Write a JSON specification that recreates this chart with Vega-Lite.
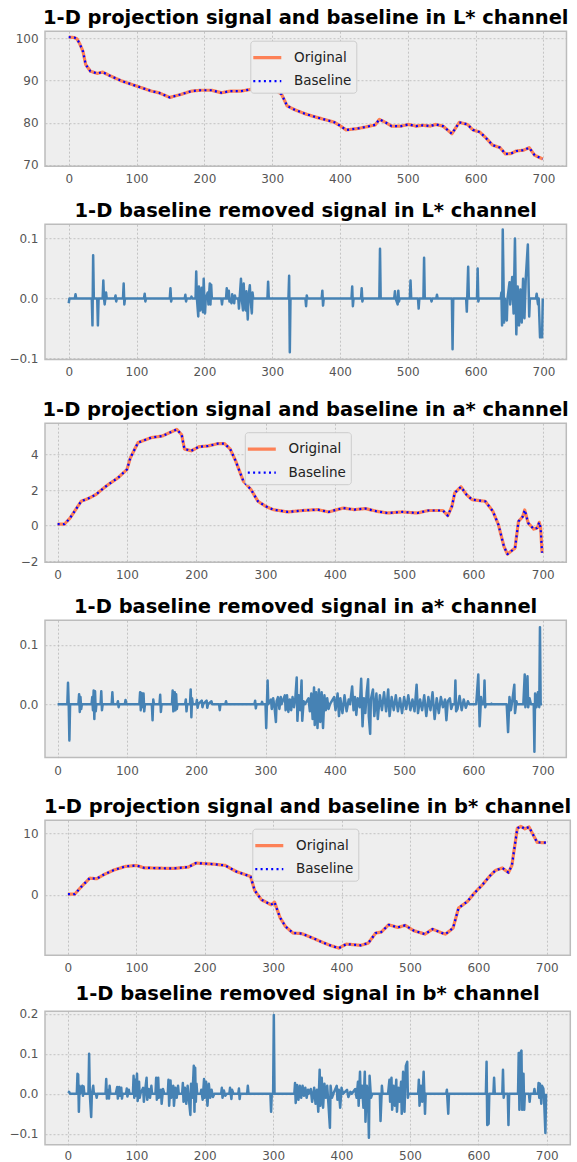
{
"$schema":"https://vega.github.io/schema/vega-lite/v6.json",
"padding":{"left":0,"top":6.2,"right":0,"bottom":0},
"background":"#ffffff",
"datasets":{
"L":[{"x":0,"v":100.3},{"x":8,"v":100.2},{"x":12,"v":99.9},{"x":16,"v":98.8},{"x":21,"v":96.9},{"x":25,"v":93.8},{"x":32,"v":92.2},{"x":42,"v":91.7},{"x":50,"v":92.0},{"x":60,"v":91.2},{"x":78,"v":89.9},{"x":100,"v":88.7},{"x":122,"v":87.5},{"x":133,"v":87.1},{"x":149,"v":86.0},{"x":165,"v":86.7},{"x":181,"v":87.5},{"x":195,"v":87.7},{"x":211,"v":87.7},{"x":225,"v":87.1},{"x":238,"v":87.5},{"x":254,"v":87.5},{"x":268,"v":87.9},{"x":281,"v":88.0},{"x":295,"v":88.8},{"x":303,"v":88.0},{"x":314,"v":86.7},{"x":322,"v":84.0},{"x":333,"v":83.1},{"x":349,"v":82.1},{"x":365,"v":81.3},{"x":379,"v":80.7},{"x":392,"v":80.1},{"x":400,"v":79.3},{"x":409,"v":78.3},{"x":425,"v":78.6},{"x":438,"v":79.0},{"x":452,"v":79.5},{"x":458,"v":80.8},{"x":468,"v":80.0},{"x":476,"v":79.2},{"x":490,"v":79.2},{"x":501,"v":79.6},{"x":512,"v":79.2},{"x":522,"v":79.4},{"x":533,"v":79.2},{"x":541,"v":79.6},{"x":552,"v":79.2},{"x":565,"v":77.4},{"x":576,"v":80.1},{"x":588,"v":79.6},{"x":596,"v":78.3},{"x":606,"v":77.8},{"x":614,"v":76.6},{"x":625,"v":74.7},{"x":636,"v":74.1},{"x":644,"v":72.6},{"x":652,"v":72.7},{"x":660,"v":73.3},{"x":671,"v":73.5},{"x":679,"v":74.1},{"x":687,"v":72.3},{"x":699,"v":71.4}],
"A":[{"x":0,"v":0.09},{"x":10,"v":0.09},{"x":18,"v":0.43},{"x":26,"v":0.9},{"x":34,"v":1.37},{"x":44,"v":1.52},{"x":55,"v":1.74},{"x":71,"v":2.25},{"x":87,"v":2.68},{"x":100,"v":3.15},{"x":105,"v":3.81},{"x":116,"v":4.66},{"x":135,"v":4.94},{"x":151,"v":5.03},{"x":172,"v":5.4},{"x":179,"v":5.1},{"x":183,"v":4.3},{"x":193,"v":4.2},{"x":204,"v":4.43},{"x":217,"v":4.47},{"x":231,"v":4.6},{"x":241,"v":4.6},{"x":249,"v":4.3},{"x":257,"v":3.62},{"x":268,"v":2.5},{"x":279,"v":2.03},{"x":289,"v":1.37},{"x":300,"v":1.09},{"x":311,"v":0.9},{"x":332,"v":0.77},{"x":353,"v":0.85},{"x":375,"v":0.9},{"x":391,"v":0.77},{"x":412,"v":0.99},{"x":428,"v":0.9},{"x":444,"v":0.96},{"x":460,"v":0.81},{"x":476,"v":0.71},{"x":497,"v":0.77},{"x":519,"v":0.71},{"x":535,"v":0.85},{"x":556,"v":0.85},{"x":563,"v":0.56},{"x":569,"v":1.09},{"x":573,"v":1.84},{"x":582,"v":2.18},{"x":590,"v":1.74},{"x":598,"v":1.46},{"x":610,"v":1.4},{"x":617,"v":1.37},{"x":628,"v":0.81},{"x":636,"v":0.06},{"x":644,"v":-1.16},{"x":649,"v":-1.6},{"x":660,"v":-1.26},{"x":665,"v":0.24},{"x":671,"v":0.5},{"x":674,"v":0.88},{"x":679,"v":0.15},{"x":687,"v":-0.19},{"x":692,"v":-0.13},{"x":695,"v":0.19},{"x":697,"v":-0.13},{"x":699,"v":-1.52}],
"B":[{"x":0,"v":0.1},{"x":10,"v":0.1},{"x":20,"v":1.35},{"x":32,"v":2.7},{"x":42,"v":2.6},{"x":52,"v":3.24},{"x":68,"v":4.05},{"x":84,"v":4.6},{"x":100,"v":4.76},{"x":111,"v":4.38},{"x":133,"v":4.32},{"x":154,"v":4.27},{"x":176,"v":4.49},{"x":187,"v":5.14},{"x":213,"v":4.97},{"x":230,"v":4.76},{"x":246,"v":3.78},{"x":267,"v":2.97},{"x":273,"v":0.7},{"x":283,"v":-0.81},{"x":297,"v":-1.62},{"x":302,"v":-1.19},{"x":310,"v":-3.68},{"x":318,"v":-5.14},{"x":329,"v":-6.2},{"x":342,"v":-6.3},{"x":358,"v":-7.03},{"x":375,"v":-7.84},{"x":385,"v":-8.27},{"x":396,"v":-8.65},{"x":407,"v":-8.0},{"x":418,"v":-8.1},{"x":428,"v":-8.2},{"x":439,"v":-7.84},{"x":450,"v":-6.2},{"x":458,"v":-6.05},{"x":469,"v":-4.86},{"x":482,"v":-5.3},{"x":493,"v":-4.97},{"x":506,"v":-5.84},{"x":522,"v":-6.38},{"x":533,"v":-5.57},{"x":547,"v":-6.2},{"x":552,"v":-6.38},{"x":563,"v":-5.4},{"x":571,"v":-2.16},{"x":584,"v":-1.08},{"x":595,"v":0.38},{"x":606,"v":1.62},{"x":617,"v":3.08},{"x":625,"v":3.95},{"x":635,"v":4.35},{"x":644,"v":3.6},{"x":649,"v":4.76},{"x":657,"v":10.8},{"x":662,"v":11.1},{"x":668,"v":10.7},{"x":674,"v":11.0},{"x":686,"v":8.5},{"x":699,"v":8.45}],
"Lr":[{"x":0,"v":-0.008},{"x":1,"v":0},{"x":9,"v":0},{"x":10,"v":0.007},{"x":11,"v":0},{"x":34,"v":0},{"x":35,"v":-0.045},{"x":36,"v":0.072},{"x":37,"v":0},{"x":42,"v":0},{"x":43,"v":-0.045},{"x":44,"v":0},{"x":50,"v":0},{"x":51,"v":0.03},{"x":52,"v":0},{"x":53,"v":-0.01},{"x":55,"v":0.01},{"x":56,"v":0},{"x":68,"v":0},{"x":69,"v":0.005},{"x":70,"v":-0.005},{"x":71,"v":0},{"x":80,"v":0},{"x":81,"v":0.025},{"x":82,"v":-0.01},{"x":83,"v":0},{"x":111,"v":0},{"x":112,"v":0.008},{"x":113,"v":-0.005},{"x":114,"v":0},{"x":149,"v":0},{"x":150,"v":0.017},{"x":151,"v":-0.005},{"x":152,"v":0},{"x":171,"v":0},{"x":172,"v":0.006},{"x":173,"v":-0.005},{"x":174,"v":0},{"x":180,"v":0},{"x":181,"v":0.003},{"x":182,"v":0},{"x":187,"v":0},{"x":188,"v":0.045},{"x":189,"v":0},{"x":191,"v":-0.03},{"x":192,"v":0.02},{"x":194,"v":-0.02},{"x":196,"v":0.018},{"x":198,"v":-0.023},{"x":199,"v":0.033},{"x":200,"v":0},{"x":201,"v":-0.025},{"x":202,"v":0},{"x":205,"v":0.01},{"x":206,"v":-0.01},{"x":208,"v":0.025},{"x":209,"v":-0.01},{"x":210,"v":0.023},{"x":211,"v":0},{"x":225,"v":0},{"x":226,"v":-0.01},{"x":227,"v":0},{"x":232,"v":0},{"x":233,"v":0.017},{"x":234,"v":0},{"x":236,"v":0.013},{"x":237,"v":-0.005},{"x":238,"v":0},{"x":240,"v":-0.008},{"x":241,"v":0.007},{"x":242,"v":0},{"x":244,"v":-0.008},{"x":245,"v":0.005},{"x":246,"v":0},{"x":250,"v":0},{"x":251,"v":-0.017},{"x":252,"v":0},{"x":254,"v":0.033},{"x":255,"v":0},{"x":257,"v":-0.02},{"x":258,"v":0.025},{"x":259,"v":0},{"x":261,"v":-0.02},{"x":262,"v":0.012},{"x":264,"v":-0.035},{"x":265,"v":0},{"x":267,"v":0.022},{"x":268,"v":0},{"x":270,"v":-0.025},{"x":271,"v":0.01},{"x":272,"v":0},{"x":293,"v":0},{"x":294,"v":0.028},{"x":295,"v":0},{"x":324,"v":0},{"x":325,"v":0.038},{"x":326,"v":-0.09},{"x":327,"v":0},{"x":349,"v":0},{"x":350,"v":-0.013},{"x":351,"v":0.005},{"x":352,"v":0},{"x":373,"v":0},{"x":374,"v":0.013},{"x":375,"v":-0.012},{"x":376,"v":0},{"x":417,"v":0},{"x":418,"v":0.02},{"x":419,"v":-0.013},{"x":420,"v":0},{"x":431,"v":0},{"x":432,"v":0.017},{"x":433,"v":-0.005},{"x":434,"v":0},{"x":458,"v":0},{"x":459,"v":0.083},{"x":460,"v":0},{"x":480,"v":0},{"x":481,"v":0.012},{"x":482,"v":0},{"x":485,"v":-0.01},{"x":486,"v":0.013},{"x":487,"v":-0.005},{"x":488,"v":0},{"x":503,"v":0},{"x":504,"v":0.03},{"x":505,"v":0},{"x":515,"v":0},{"x":516,"v":-0.017},{"x":517,"v":0},{"x":523,"v":0},{"x":524,"v":0.068},{"x":525,"v":0},{"x":534,"v":0},{"x":535,"v":-0.005},{"x":536,"v":0},{"x":542,"v":0},{"x":543,"v":0.006},{"x":544,"v":0},{"x":565,"v":0},{"x":566,"v":-0.085},{"x":567,"v":0},{"x":586,"v":0},{"x":587,"v":-0.022},{"x":589,"v":0.053},{"x":590,"v":0},{"x":602,"v":0},{"x":603,"v":0.05},{"x":604,"v":-0.005},{"x":605,"v":0},{"x":637,"v":0},{"x":638,"v":0.01},{"x":639,"v":-0.045},{"x":640,"v":0.115},{"x":642,"v":-0.04},{"x":643,"v":0},{"x":646,"v":-0.037},{"x":647,"v":0},{"x":650,"v":0.027},{"x":651,"v":-0.01},{"x":654,"v":0.036},{"x":656,"v":-0.025},{"x":658,"v":0.1},{"x":660,"v":-0.06},{"x":662,"v":0.02},{"x":664,"v":-0.045},{"x":666,"v":0.015},{"x":668,"v":-0.04},{"x":670,"v":0.033},{"x":672,"v":-0.033},{"x":674,"v":0.035},{"x":677,"v":0.09},{"x":679,"v":-0.03},{"x":680,"v":0},{"x":689,"v":0},{"x":690,"v":0.008},{"x":692,"v":-0.01},{"x":693,"v":0},{"x":695,"v":-0.065},{"x":698,"v":-0.065},{"x":699,"v":0}],
"Ar":[{"x":0,"v":0},{"x":14,"v":0},{"x":15,"v":0.036},{"x":16,"v":0},{"x":17,"v":-0.061},{"x":18,"v":0},{"x":30,"v":0},{"x":31,"v":0.017},{"x":32,"v":-0.013},{"x":33,"v":0.012},{"x":34,"v":-0.008},{"x":35,"v":0},{"x":49,"v":0},{"x":50,"v":0.012},{"x":51,"v":-0.01},{"x":52,"v":0.023},{"x":53,"v":-0.025},{"x":54,"v":0.022},{"x":55,"v":-0.012},{"x":56,"v":0},{"x":62,"v":0},{"x":63,"v":0.022},{"x":64,"v":-0.01},{"x":65,"v":0},{"x":78,"v":0},{"x":79,"v":0.02},{"x":80,"v":0},{"x":86,"v":0},{"x":87,"v":0.005},{"x":88,"v":-0.005},{"x":89,"v":0},{"x":97,"v":0},{"x":98,"v":0.007},{"x":99,"v":0},{"x":118,"v":0},{"x":119,"v":0.02},{"x":120,"v":-0.01},{"x":121,"v":0.019},{"x":122,"v":-0.005},{"x":124,"v":0.018},{"x":125,"v":-0.012},{"x":126,"v":0},{"x":136,"v":0},{"x":137,"v":-0.027},{"x":138,"v":0.008},{"x":139,"v":0},{"x":147,"v":0},{"x":148,"v":0.016},{"x":149,"v":-0.013},{"x":150,"v":0},{"x":165,"v":0},{"x":166,"v":0.023},{"x":167,"v":-0.012},{"x":169,"v":0.02},{"x":170,"v":-0.01},{"x":171,"v":0.017},{"x":172,"v":-0.008},{"x":173,"v":0},{"x":184,"v":0},{"x":185,"v":0.008},{"x":186,"v":-0.012},{"x":187,"v":0},{"x":191,"v":0},{"x":192,"v":0.025},{"x":193,"v":-0.022},{"x":194,"v":0.01},{"x":195,"v":0},{"x":200,"v":0},{"x":201,"v":0.007},{"x":202,"v":-0.006},{"x":203,"v":0},{"x":208,"v":0.006},{"x":209,"v":-0.005},{"x":210,"v":0},{"x":215,"v":0.006},{"x":216,"v":-0.006},{"x":217,"v":0},{"x":222,"v":0.005},{"x":223,"v":0},{"x":233,"v":0},{"x":234,"v":-0.01},{"x":235,"v":0},{"x":242,"v":0},{"x":243,"v":0.005},{"x":244,"v":0},{"x":284,"v":0},{"x":285,"v":0.006},{"x":286,"v":-0.007},{"x":287,"v":0},{"x":294,"v":0},{"x":295,"v":0.004},{"x":296,"v":0},{"x":300,"v":0},{"x":301,"v":-0.04},{"x":303,"v":0.04},{"x":304,"v":0},{"x":308,"v":0.008},{"x":309,"v":-0.008},{"x":311,"v":0.01},{"x":313,"v":-0.005},{"x":315,"v":-0.03},{"x":316,"v":0.005},{"x":318,"v":0.012},{"x":320,"v":-0.008},{"x":322,"v":0.012},{"x":323,"v":0},{"x":328,"v":0.015},{"x":329,"v":-0.01},{"x":331,"v":0.015},{"x":333,"v":-0.013},{"x":335,"v":0.008},{"x":337,"v":-0.01},{"x":339,"v":0.012},{"x":341,"v":-0.005},{"x":343,"v":0.01},{"x":345,"v":0.045},{"x":346,"v":-0.028},{"x":348,"v":0.015},{"x":350,"v":-0.01},{"x":352,"v":0.04},{"x":353,"v":-0.028},{"x":355,"v":0.005},{"x":357,"v":0},{"x":362,"v":0.01},{"x":364,"v":-0.012},{"x":366,"v":0.018},{"x":368,"v":-0.025},{"x":370,"v":0.028},{"x":371,"v":-0.035},{"x":373,"v":0.02},{"x":375,"v":-0.04},{"x":377,"v":0.025},{"x":379,"v":-0.03},{"x":381,"v":0.02},{"x":383,"v":-0.04},{"x":385,"v":0.015},{"x":387,"v":-0.01},{"x":389,"v":0.01},{"x":391,"v":-0.008},{"x":393,"v":0},{"x":399,"v":0.012},{"x":401,"v":-0.01},{"x":404,"v":0.018},{"x":406,"v":-0.02},{"x":408,"v":0.01},{"x":411,"v":-0.015},{"x":414,"v":0.015},{"x":417,"v":-0.012},{"x":420,"v":0.008},{"x":422,"v":0},{"x":425,"v":0.03},{"x":427,"v":-0.01},{"x":429,"v":0.012},{"x":431,"v":-0.018},{"x":433,"v":0.01},{"x":436,"v":-0.005},{"x":438,"v":0.043},{"x":440,"v":-0.037},{"x":442,"v":0.01},{"x":444,"v":-0.015},{"x":446,"v":0.02},{"x":448,"v":0.042},{"x":449,"v":-0.02},{"x":451,"v":-0.05},{"x":452,"v":0.008},{"x":455,"v":0.025},{"x":457,"v":-0.02},{"x":460,"v":0.018},{"x":462,"v":-0.025},{"x":465,"v":0.015},{"x":468,"v":-0.01},{"x":471,"v":0.02},{"x":474,"v":-0.012},{"x":477,"v":0.025},{"x":479,"v":-0.02},{"x":482,"v":0.012},{"x":485,"v":-0.01},{"x":488,"v":0.015},{"x":491,"v":-0.012},{"x":494,"v":0.01},{"x":497,"v":-0.015},{"x":500,"v":0.012},{"x":503,"v":-0.008},{"x":506,"v":0.015},{"x":509,"v":-0.01},{"x":512,"v":0.008},{"x":515,"v":-0.012},{"x":518,"v":0.033},{"x":520,"v":-0.015},{"x":523,"v":0.008},{"x":526,"v":-0.01},{"x":529,"v":0.015},{"x":532,"v":-0.02},{"x":535,"v":0.012},{"x":538,"v":-0.01},{"x":541,"v":0.02},{"x":544,"v":-0.025},{"x":547,"v":0.01},{"x":550,"v":-0.015},{"x":553,"v":0.012},{"x":556,"v":-0.005},{"x":559,"v":0.008},{"x":561,"v":-0.027},{"x":563,"v":0.005},{"x":566,"v":0.01},{"x":568,"v":-0.008},{"x":570,"v":0},{"x":573,"v":0},{"x":574,"v":0.04},{"x":575,"v":-0.012},{"x":577,"v":-0.008},{"x":580,"v":0.014},{"x":583,"v":-0.01},{"x":586,"v":0.008},{"x":589,"v":-0.006},{"x":592,"v":0.005},{"x":594,"v":0},{"x":604,"v":0},{"x":607,"v":0.05},{"x":609,"v":-0.037},{"x":611,"v":0.012},{"x":612,"v":0},{"x":615,"v":0},{"x":616,"v":0.04},{"x":617,"v":-0.005},{"x":618,"v":0},{"x":625,"v":0},{"x":626,"v":0.001},{"x":627,"v":0},{"x":648,"v":0},{"x":650,"v":-0.047},{"x":652,"v":0.012},{"x":654,"v":-0.01},{"x":656,"v":0.005},{"x":659,"v":0.033},{"x":660,"v":-0.015},{"x":662,"v":0.005},{"x":663,"v":0},{"x":672,"v":0},{"x":674,"v":0.05},{"x":675,"v":-0.005},{"x":678,"v":0.047},{"x":679,"v":-0.005},{"x":681,"v":0.01},{"x":683,"v":0},{"x":687,"v":0},{"x":688,"v":-0.08},{"x":689,"v":0.018},{"x":691,"v":-0.005},{"x":693,"v":0.02},{"x":695,"v":-0.005},{"x":696,"v":0.13},{"x":697,"v":0},{"x":699,"v":0}],
"Br":[{"x":0,"v":0.006},{"x":2,"v":0.004},{"x":3,"v":0},{"x":13,"v":0},{"x":14,"v":0.05},{"x":15,"v":0.048},{"x":16,"v":-0.045},{"x":17,"v":0.02},{"x":18,"v":0},{"x":21,"v":0.02},{"x":22,"v":-0.005},{"x":23,"v":0.018},{"x":24,"v":0},{"x":30,"v":0},{"x":31,"v":0.1},{"x":32,"v":0},{"x":34,"v":-0.058},{"x":35,"v":0},{"x":37,"v":0.02},{"x":38,"v":0},{"x":41,"v":0},{"x":42,"v":-0.01},{"x":43,"v":0},{"x":55,"v":0},{"x":56,"v":0.037},{"x":57,"v":-0.012},{"x":58,"v":0.01},{"x":60,"v":-0.012},{"x":61,"v":0.02},{"x":62,"v":0},{"x":70,"v":0},{"x":72,"v":0.017},{"x":73,"v":-0.012},{"x":75,"v":0.017},{"x":76,"v":-0.005},{"x":78,"v":0.015},{"x":79,"v":-0.012},{"x":80,"v":0},{"x":85,"v":0},{"x":86,"v":0.013},{"x":87,"v":-0.007},{"x":89,"v":0.01},{"x":90,"v":0},{"x":95,"v":0},{"x":96,"v":0.045},{"x":97,"v":-0.01},{"x":98,"v":0.035},{"x":99,"v":-0.005},{"x":101,"v":0.05},{"x":102,"v":-0.018},{"x":104,"v":0.03},{"x":105,"v":-0.01},{"x":106,"v":0},{"x":110,"v":0.015},{"x":111,"v":-0.02},{"x":113,"v":0.01},{"x":115,"v":0.04},{"x":116,"v":-0.015},{"x":118,"v":0.012},{"x":120,"v":-0.01},{"x":122,"v":0.02},{"x":123,"v":0},{"x":128,"v":0},{"x":129,"v":0.04},{"x":130,"v":-0.015},{"x":132,"v":0.04},{"x":133,"v":-0.01},{"x":136,"v":0.01},{"x":137,"v":-0.025},{"x":139,"v":0.012},{"x":141,"v":0},{"x":146,"v":0},{"x":147,"v":0.035},{"x":148,"v":-0.03},{"x":150,"v":0.033},{"x":151,"v":-0.01},{"x":154,"v":0.02},{"x":155,"v":-0.03},{"x":157,"v":0.015},{"x":159,"v":-0.01},{"x":161,"v":0.02},{"x":162,"v":0},{"x":167,"v":0},{"x":168,"v":0.027},{"x":169,"v":-0.02},{"x":171,"v":0.015},{"x":173,"v":-0.025},{"x":175,"v":0.02},{"x":179,"v":-0.053},{"x":180,"v":0.025},{"x":182,"v":-0.01},{"x":184,"v":0.07},{"x":185,"v":-0.045},{"x":186,"v":0.065},{"x":187,"v":-0.02},{"x":188,"v":0.025},{"x":189,"v":0},{"x":194,"v":0},{"x":195,"v":0.01},{"x":197,"v":-0.015},{"x":199,"v":0.037},{"x":200,"v":-0.01},{"x":202,"v":0.03},{"x":204,"v":-0.03},{"x":206,"v":0.025},{"x":208,"v":-0.01},{"x":210,"v":0.01},{"x":212,"v":-0.008},{"x":214,"v":0},{"x":224,"v":0},{"x":225,"v":0.015},{"x":226,"v":-0.01},{"x":228,"v":0.008},{"x":230,"v":-0.005},{"x":232,"v":0},{"x":236,"v":0},{"x":237,"v":0.015},{"x":239,"v":-0.013},{"x":240,"v":0.01},{"x":242,"v":0},{"x":249,"v":0},{"x":250,"v":0.013},{"x":251,"v":-0.013},{"x":252,"v":0},{"x":262,"v":0},{"x":263,"v":0.02},{"x":264,"v":0},{"x":296,"v":0},{"x":297,"v":-0.045},{"x":298,"v":0},{"x":300,"v":0},{"x":301,"v":0.197},{"x":302,"v":0},{"x":331,"v":0},{"x":332,"v":0.027},{"x":333,"v":-0.023},{"x":335,"v":0.022},{"x":337,"v":-0.015},{"x":339,"v":0.02},{"x":341,"v":-0.01},{"x":343,"v":0.02},{"x":345,"v":-0.005},{"x":347,"v":0.015},{"x":349,"v":-0.01},{"x":351,"v":0.01},{"x":352,"v":0},{"x":355,"v":0.012},{"x":357,"v":-0.02},{"x":360,"v":0.015},{"x":362,"v":-0.025},{"x":364,"v":0.01},{"x":366,"v":-0.045},{"x":368,"v":0.06},{"x":369,"v":-0.03},{"x":371,"v":0.04},{"x":373,"v":-0.035},{"x":375,"v":0.025},{"x":377,"v":-0.01},{"x":379,"v":0.02},{"x":381,"v":-0.03},{"x":383,"v":-0.085},{"x":384,"v":0.02},{"x":386,"v":-0.01},{"x":388,"v":0},{"x":393,"v":0.02},{"x":394,"v":-0.015},{"x":396,"v":0.01},{"x":398,"v":-0.035},{"x":400,"v":0.015},{"x":402,"v":0},{"x":408,"v":0.01},{"x":410,"v":-0.008},{"x":413,"v":0.005},{"x":415,"v":0},{"x":420,"v":0.012},{"x":422,"v":-0.01},{"x":424,"v":0.03},{"x":425,"v":-0.03},{"x":427,"v":0.055},{"x":428,"v":-0.01},{"x":430,"v":0.02},{"x":432,"v":-0.035},{"x":434,"v":0.055},{"x":435,"v":-0.07},{"x":437,"v":0.02},{"x":439,"v":-0.03},{"x":440,"v":-0.11},{"x":441,"v":0.045},{"x":443,"v":-0.01},{"x":445,"v":0},{"x":456,"v":0},{"x":457,"v":-0.068},{"x":459,"v":0.02},{"x":460,"v":0},{"x":468,"v":0},{"x":470,"v":0.035},{"x":471,"v":-0.02},{"x":473,"v":0.04},{"x":474,"v":-0.04},{"x":476,"v":0.02},{"x":478,"v":-0.03},{"x":480,"v":0.035},{"x":481,"v":-0.045},{"x":483,"v":0.015},{"x":485,"v":-0.02},{"x":487,"v":0.03},{"x":488,"v":-0.05},{"x":490,"v":0.055},{"x":492,"v":-0.045},{"x":494,"v":0.07},{"x":496,"v":0.08},{"x":497,"v":-0.01},{"x":498,"v":0},{"x":512,"v":0},{"x":513,"v":0.035},{"x":514,"v":-0.03},{"x":516,"v":0.02},{"x":518,"v":-0.02},{"x":520,"v":0.055},{"x":522,"v":-0.05},{"x":523,"v":0},{"x":553,"v":0},{"x":554,"v":0.01},{"x":556,"v":-0.05},{"x":557,"v":0},{"x":611,"v":0},{"x":612,"v":0.08},{"x":613,"v":-0.078},{"x":615,"v":-0.075},{"x":616,"v":0},{"x":622,"v":0},{"x":623,"v":0.04},{"x":624,"v":0},{"x":635,"v":0},{"x":636,"v":0.06},{"x":637,"v":-0.01},{"x":638,"v":0},{"x":643,"v":0},{"x":644,"v":-0.078},{"x":645,"v":0},{"x":658,"v":0},{"x":659,"v":0.102},{"x":660,"v":-0.04},{"x":661,"v":0.1},{"x":663,"v":0.108},{"x":664,"v":-0.04},{"x":666,"v":0.05},{"x":667,"v":-0.04},{"x":668,"v":0},{"x":674,"v":0},{"x":675,"v":-0.02},{"x":676,"v":0},{"x":681,"v":0},{"x":682,"v":0.012},{"x":683,"v":0},{"x":687,"v":0},{"x":688,"v":0.027},{"x":689,"v":-0.01},{"x":690,"v":0.025},{"x":692,"v":-0.025},{"x":693,"v":0.02},{"x":695,"v":0.013},{"x":696,"v":-0.01},{"x":698,"v":-0.098},{"x":699,"v":0}]
},
"config":{
"font":"DejaVu Sans",
"view":{"fill":"#eeeeee","stroke":"#bcbcbc","strokeWidth":1.5},
"axis":{"domain":false,"ticks":false,"tickSize":0,"grid":true,"gridColor":"#b8b8b8","gridDash":[2,2],"gridWidth":0.8,"labelFont":"DejaVu Sans","labelFontSize":12,"labelColor":"#555555","labelFlush":false,"labelOverlap":false},
"axisX":{"labelPadding":7.5},
"axisY":{"labelPadding":7},
"title":{"font":"DejaVu Sans","fontSize":19.5,"fontWeight":"bold","color":"#000000","anchor":"middle","frame":"group"},
"legend":{"padding":5,"fillColor":"#eeeeee","strokeColor":"#cccccc","cornerRadius":3,"labelFont":"DejaVu Sans","labelFontSize":13.5,"labelColor":"#222222","symbolType":"M-1.4,0H1.4","symbolSize":400,"labelOffset":14.75,"rowPadding":5}
},
"resolve":{"scale":{"x":"independent","y":"independent","color":"independent","strokeDash":"independent","strokeWidth":"independent"},"legend":{"color":"independent","strokeDash":"independent","strokeWidth":"independent"}},
"spacing":8,
"vconcat":[
{"spacing":8,
 "resolve":{"scale":{"x":"independent","y":"independent","color":"independent","strokeDash":"independent","strokeWidth":"independent"},"legend":{"color":"independent","strokeDash":"independent","strokeWidth":"independent"}},
 "vconcat":[
{"width":521.5,"height":135,"title":{"text":"1-D projection signal and baseline in L* channel","offset":3},
 "data":{"name":"L"},
 "encoding":{"x":{"field":"x","type":"quantitative","title":null,"scale":{"domain":[-35,734],"nice":false,"zero":false},"axis":{"values":[0,100,200,300,400,500,600,700],"format":"d","minExtent":23.3,"maxExtent":23.3}},
  "y":{"field":"v","type":"quantitative","title":null,"scale":{"domain":[69.7,101.7],"nice":false,"zero":false},"axis":{"values":[70,80,90,100],"format":"d","minExtent":44,"maxExtent":44}}},
 "layer":[
  {"mark":{"type":"line","strokeJoin":"round","strokeCap":"butt"},"encoding":{
   "color":{"datum":"Original","type":"nominal","scale":{"domain":["Original","Baseline"],"range":["#fd8157","#0000ff"]},"legend":{"title":null,"orient":"none","legendX":205.3,"legendY":9.5,"symbolType":"M-1.4,0H1.4"}},
   "strokeDash":{"datum":"Original","type":"nominal","scale":{"domain":["Original","Baseline"],"range":[[1,0],[2,3.3]]},"legend":{"title":null,"orient":"none","legendX":205.3,"legendY":9.5,"symbolType":"M-1.4,0H1.4"}},
   "strokeWidth":{"datum":"Original","type":"nominal","scale":{"domain":["Original","Baseline"],"range":[3.2,2.2]},"legend":{"title":null,"orient":"none","legendX":205.3,"legendY":9.5,"symbolType":"M-1.4,0H1.4"}}}},
  {"mark":{"type":"line","strokeJoin":"round","strokeCap":"butt"},"encoding":{
   "color":{"datum":"Baseline","type":"nominal"},"strokeDash":{"datum":"Baseline","type":"nominal"},"strokeWidth":{"datum":"Baseline","type":"nominal"}}}
 ]},
{"width":521.5,"height":135.3,"title":{"text":"1-D baseline removed signal in L* channel","offset":3},
 "data":{"name":"Lr"},
 "mark":{"type":"line","color":"#4682b4","strokeWidth":2.5,"strokeJoin":"round"},
 "encoding":{"x":{"field":"x","type":"quantitative","title":null,"scale":{"domain":[-35,734],"nice":false,"zero":false},"axis":{"values":[0,100,200,300,400,500,600,700],"format":"d","minExtent":29.4,"maxExtent":29.4}},
  "y":{"field":"v","type":"quantitative","title":null,"scale":{"domain":[-0.102,0.124],"nice":false,"zero":false},"axis":{"values":[-0.1,0,0.1],"format":".1f","labelExpr":"replace(datum.label,'-','\u2212')","minExtent":44,"maxExtent":44}}}}
 ]},
{"spacing":8,
 "resolve":{"scale":{"x":"independent","y":"independent","color":"independent","strokeDash":"independent","strokeWidth":"independent"},"legend":{"color":"independent","strokeDash":"independent","strokeWidth":"independent"}},
 "vconcat":[
{"width":521.3,"height":139,"title":{"text":"1-D projection signal and baseline in a* channel","offset":3},
 "data":{"name":"A"},
 "encoding":{"x":{"field":"x","type":"quantitative","title":null,"scale":{"domain":[-18.2,734],"nice":false,"zero":false},"axis":{"values":[0,100,200,300,400,500,600,700],"format":"d","minExtent":23.6,"maxExtent":23.6}},
  "y":{"field":"v","type":"quantitative","title":null,"scale":{"domain":[-2.05,5.75],"nice":false,"zero":false},"axis":{"values":[-2,0,2,4],"format":"d","labelExpr":"replace(datum.label,'-','\u2212')","minExtent":44,"maxExtent":44}}},
 "layer":[
  {"mark":{"type":"line","strokeJoin":"round","strokeCap":"butt"},"encoding":{
   "color":{"datum":"Original","type":"nominal","scale":{"domain":["Original","Baseline"],"range":["#fd8157","#0000ff"]},"legend":{"title":null,"orient":"none","legendX":199.8,"legendY":9,"symbolType":"M-1.4,0H1.4"}},
   "strokeDash":{"datum":"Original","type":"nominal","scale":{"domain":["Original","Baseline"],"range":[[1,0],[2,3.3]]},"legend":{"title":null,"orient":"none","legendX":199.8,"legendY":9,"symbolType":"M-1.4,0H1.4"}},
   "strokeWidth":{"datum":"Original","type":"nominal","scale":{"domain":["Original","Baseline"],"range":[3.2,2.2]},"legend":{"title":null,"orient":"none","legendX":199.8,"legendY":9,"symbolType":"M-1.4,0H1.4"}}}},
  {"mark":{"type":"line","strokeJoin":"round","strokeCap":"butt"},"encoding":{
   "color":{"datum":"Baseline","type":"nominal"},"strokeDash":{"datum":"Baseline","type":"nominal"},"strokeWidth":{"datum":"Baseline","type":"nominal"}}}
 ]},
{"width":521.3,"height":137.4,"title":{"text":"1-D baseline removed signal in a* channel","offset":3},
 "data":{"name":"Ar"},
 "mark":{"type":"line","color":"#4682b4","strokeWidth":2.5,"strokeJoin":"round"},
 "encoding":{"x":{"field":"x","type":"quantitative","title":null,"scale":{"domain":[-18.2,734],"nice":false,"zero":false},"axis":{"values":[0,100,200,300,400,500,600,700],"format":"d","minExtent":28.6,"maxExtent":28.6}},
  "y":{"field":"v","type":"quantitative","title":null,"scale":{"domain":[-0.09,0.1417],"nice":false,"zero":false},"axis":{"values":[0,0.1],"format":".1f","minExtent":44,"maxExtent":44}}}}
 ]},
{"spacing":5,
 "resolve":{"scale":{"x":"independent","y":"independent","color":"independent","strokeDash":"independent","strokeWidth":"independent"},"legend":{"color":"independent","strokeDash":"independent","strokeWidth":"independent"}},
 "vconcat":[
{"width":525.3,"height":135,"title":{"text":"1-D projection signal and baseline in b* channel","offset":3},
 "data":{"name":"B"},
 "encoding":{"x":{"field":"x","type":"quantitative","title":null,"scale":{"domain":[-33.5,734.4],"nice":false,"zero":false},"axis":{"values":[0,100,200,300,400,500,600,700],"format":"d","minExtent":22,"maxExtent":22}},
  "y":{"field":"v","type":"quantitative","title":null,"scale":{"domain":[-9.8,12.1],"nice":false,"zero":false},"axis":{"values":[0,10],"format":"d","minExtent":44,"maxExtent":44}}},
 "layer":[
  {"mark":{"type":"line","strokeJoin":"round","strokeCap":"butt"},"encoding":{
   "color":{"datum":"Original","type":"nominal","scale":{"domain":["Original","Baseline"],"range":["#fd8157","#0000ff"]},"legend":{"title":null,"orient":"none","legendX":207.3,"legendY":8.5,"symbolType":"M-1.4,0H1.4"}},
   "strokeDash":{"datum":"Original","type":"nominal","scale":{"domain":["Original","Baseline"],"range":[[1,0],[2,3.3]]},"legend":{"title":null,"orient":"none","legendX":207.3,"legendY":8.5,"symbolType":"M-1.4,0H1.4"}},
   "strokeWidth":{"datum":"Original","type":"nominal","scale":{"domain":["Original","Baseline"],"range":[3.2,2.2]},"legend":{"title":null,"orient":"none","legendX":207.3,"legendY":8.5,"symbolType":"M-1.4,0H1.4"}}}},
  {"mark":{"type":"line","strokeJoin":"round","strokeCap":"butt"},"encoding":{
   "color":{"datum":"Baseline","type":"nominal"},"strokeDash":{"datum":"Baseline","type":"nominal"},"strokeWidth":{"datum":"Baseline","type":"nominal"}}}
 ]},
{"width":525.3,"height":133.6,"title":{"text":"1-D baseline removed signal in b* channel","offset":3},
 "data":{"name":"Br"},
 "mark":{"type":"line","color":"#4682b4","strokeWidth":2.5,"strokeJoin":"round"},
 "encoding":{"x":{"field":"x","type":"quantitative","title":null,"scale":{"domain":[-33.5,734.4],"nice":false,"zero":false},"axis":{"values":[0,100,200,300,400,500,600,700],"format":"d","labelPadding":6,"minExtent":20,"maxExtent":20}},
  "y":{"field":"v","type":"quantitative","title":null,"scale":{"domain":[-0.1275,0.2065],"nice":false,"zero":false},"axis":{"values":[-0.1,0,0.1,0.2],"format":".1f","labelExpr":"replace(datum.label,'-','\u2212')","minExtent":44,"maxExtent":44}}}}
 ]}
]
}
